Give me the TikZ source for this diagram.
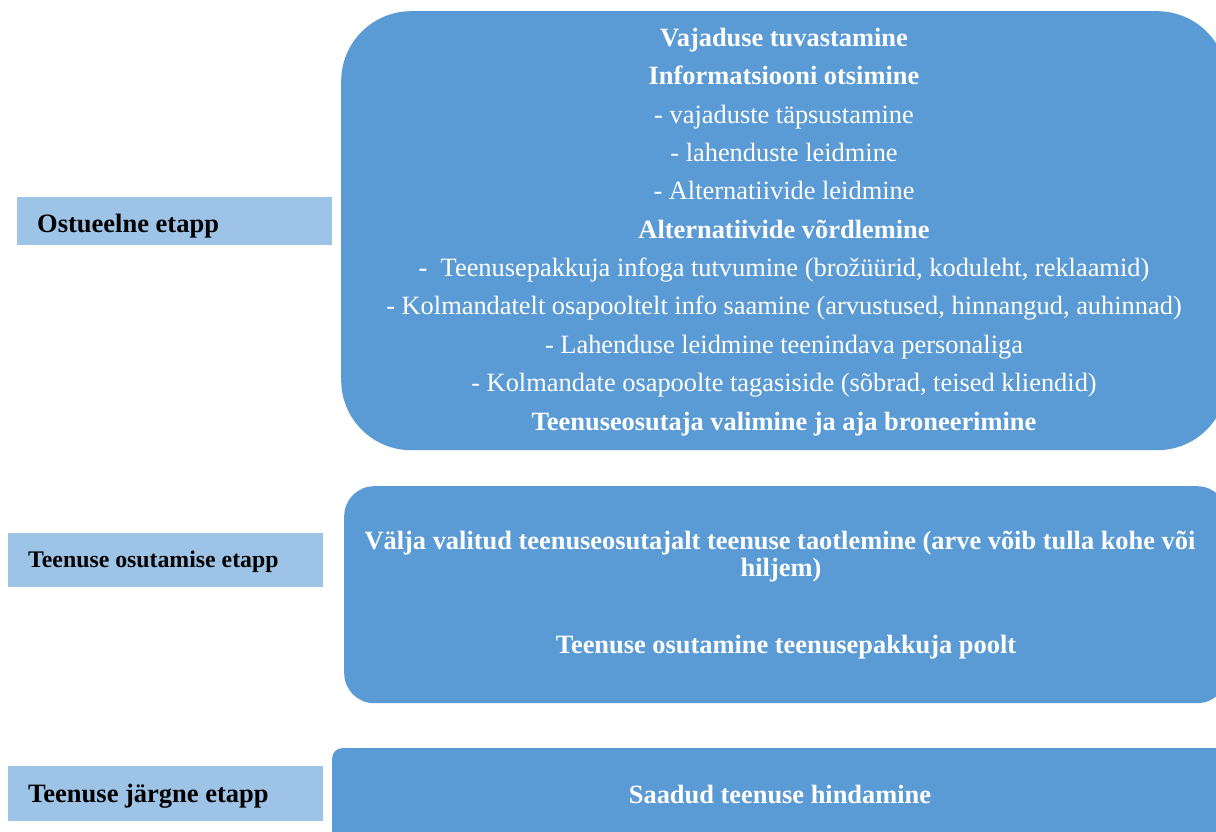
\documentclass[tikz,border=0pt]{standalone}
\usepackage{fontspec}
\setmainfont{Liberation Serif}
\definecolor{mainblue}{HTML}{5B9BD5}
\definecolor{lightblue}{HTML}{9DC3E6}
\tikzset{
  mainbox/.style={fill=mainblue, draw=none, anchor=north west, inner sep=0pt},
  labelbox/.style={fill=lightblue, draw=none, anchor=north west, inner sep=0pt},
  mtxt/.style={text=white, anchor=base, inner sep=0pt, font=\fontsize{26.4}{30}\selectfont},
  mbold/.style={mtxt, font=\fontsize{26.4}{30}\selectfont\bfseries},
  ltxt/.style={text=black, anchor=base west, inner sep=0pt, font=\fontsize{26.5}{30}\selectfont\bfseries},
  ltxtsmall/.style={ltxt, font=\fontsize{23.8}{28}\selectfont\bfseries}
}
\begin{document}
\begin{tikzpicture}[x=1pt,y=-1pt]
\useasboundingbox (0,0) rectangle (1216,832);
\clip (0,0) rectangle (1216,832);
% main boxes
\node[mainbox, rounded corners=70, minimum width=886, minimum height=439] (top) at (341,11) {};
\node[mainbox, rounded corners=30, minimum width=883, minimum height=217] (mid) at (344,486) {};
\node[mainbox, rounded corners=10, minimum width=900, minimum height=120] (bot) at (332,748) {};
% label boxes
\node[labelbox, minimum width=315, minimum height=48] (l1) at (17,197) {};
\node[labelbox, minimum width=315, minimum height=54] (l2) at (8,533) {};
\node[labelbox, minimum width=315, minimum height=55] (l3) at (8,766) {};
\node[ltxt] (l1t) at (37,233) {Ostueelne etapp};
\node[ltxtsmall] (l2t) at (28,567) {Teenuse osutamise etapp};
\node[ltxt] (l3t) at (28,802) {Teenuse järgne etapp};
% top box text
\node[mbold] (t1) at (784,47) {Vajaduse tuvastamine};
\node[mbold] (t2) at (784,85) {Informatsiooni otsimine};
\node[mtxt] (t3) at (784,123.3) {- vajaduste täpsustamine};
\node[mtxt] (t4) at (784,161.6) {- lahenduste leidmine};
\node[mtxt] (t5) at (784,199.9) {- Alternatiivide leidmine};
\node[mbold] (t6) at (784,238.2) {Alternatiivide võrdlemine};
\node[mtxt] (t7) at (784,276.5) {{\bfseries -}\ \ Teenusepakkuja infoga tutvumine (brožüürid, koduleht, reklaamid)};
\node[mtxt] (t8) at (784,314.8) {- Kolmandatelt osapooltelt info saamine (arvustused, hinnangud, auhinnad)};
\node[mtxt] (t9) at (784,353.1) {- Lahenduse leidmine teenindava personaliga};
\node[mtxt] (t10) at (784,391.4) {- Kolmandate osapoolte tagasiside (sõbrad, teised kliendid)};
\node[mbold] (t11) at (784,430) {Teenuseosutaja valimine ja aja broneerimine};
% middle box text
\node[mbold] (m1) at (780,549) {Välja valitud teenuseosutajalt teenuse taotlemine (arve võib tulla kohe või};
\node[mbold] (m2) at (781,576) {hiljem)};
\node[mbold] (m3) at (786,653) {Teenuse osutamine teenusepakkuja poolt};
% bottom box text
\node[mbold] (b1) at (780,803) {Saadud teenuse hindamine};
\end{tikzpicture}
\end{document}
